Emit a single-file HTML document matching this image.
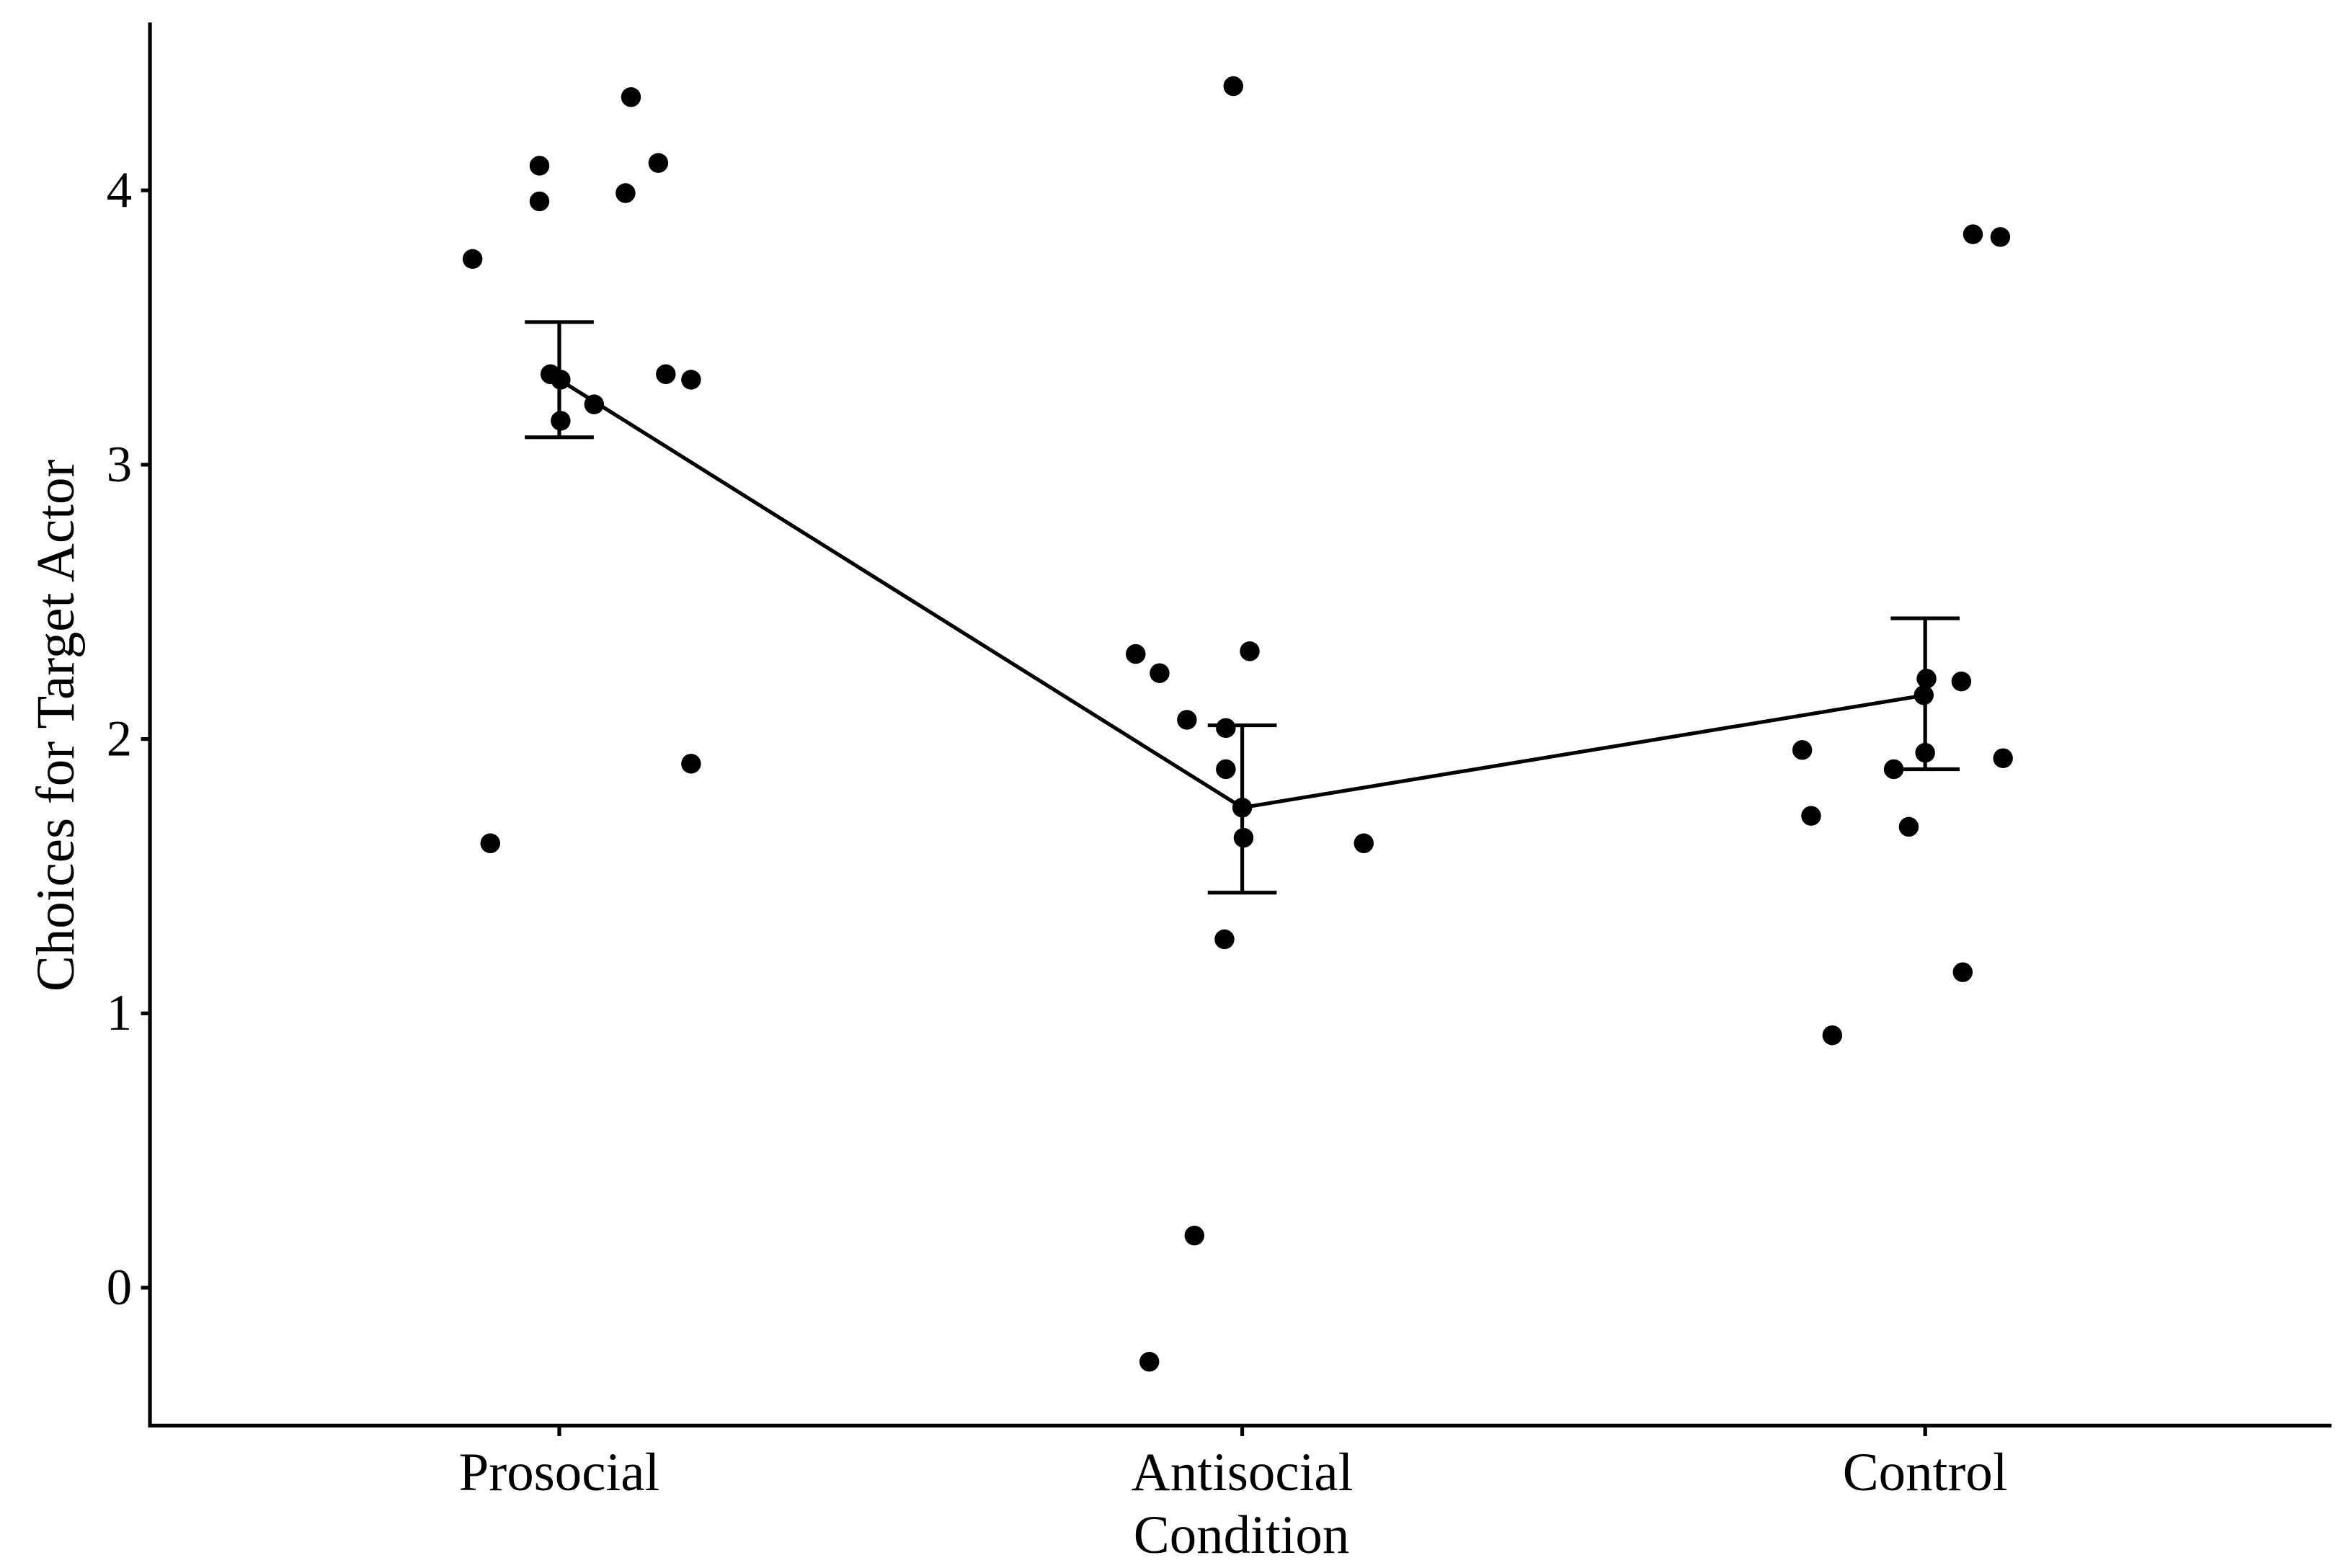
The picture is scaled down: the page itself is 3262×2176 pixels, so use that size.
<!DOCTYPE html>
<html><head><meta charset="utf-8"><style>
html,body{margin:0;padding:0;background:#fff}
svg{display:block}
text{font-family:"Liberation Serif",serif;fill:#000}
</style></head><body>
<svg id="chart" width="3262" height="2176" viewBox="0 0 1568 1046" xmlns="http://www.w3.org/2000/svg"></svg>
<script>
const categories = ["Prosocial","Antisocial","Control"];
const yTicks = [0,1,2,3,4];
const meanValues = [3.31, 1.75, 2.16];
const errLow = [3.10, 1.44, 1.89];
const errHigh = [3.52, 2.05, 2.44];
const pointCat = [0,0,0,0,0,0,0,0,0,0,0,0,0,0, 1,1,1,1,1,1,1,1,1,1,1,1,1, 2,2,2,2,2,2,2,2,2,2,2,2,2];
const pointJitter = [-0.127,-0.101,-0.029,-0.029,-0.013,0.002,0.002,0.051,0.097,0.105,0.145,0.156,0.193,0.193,
 -0.156,-0.121,-0.081,-0.024,-0.024,-0.013,0.011,0,0.002,-0.026,-0.070,-0.136,0.178,
 0.070,0.110,0.002,-0.002,0.053,-0.180,0,-0.046,0.114,-0.167,-0.024,0.055,-0.136];
const pointValues = [3.75,1.62,4.09,3.96,3.33,3.31,3.16,3.22,3.99,4.34,4.10,3.33,3.31,1.91,
 2.31,2.24,2.07,2.04,1.89,4.38,2.32,1.75,1.64,1.27,0.19,-0.27,1.62,
 3.84,3.83,2.22,2.16,2.21,1.96,1.95,1.89,1.93,1.72,1.68,1.15,0.92];

const svg = document.getElementById('chart');
const NS = "http://www.w3.org/2000/svg";
const X0 = 100, X1 = 1555, Y0 = 951, YT = 15;
const xScale = c => 373 + c * 455.5;
const yScale = v => 859 - v * 183;
function mk(tag, attrs, parent){const e=document.createElementNS(NS,tag);for(const k in attrs)e.setAttribute(k,attrs[k]);(parent||svg).appendChild(e);return e;}

const ax = mk('path',{d:`M${X0} ${YT} L${X0} ${Y0} L${X1} ${Y0}`,fill:'none',stroke:'#000','stroke-width':2.5});



yTicks.forEach(t=>{
  const y=yScale(t);
  const l=mk('line',{x1:X0-6,x2:X0,y1:y,y2:y,stroke:'#000','stroke-width':2.5});
  
  
  const tx=mk('text',{x:X0-12,y:y+11,'text-anchor':'end','font-size':34});
  tx.textContent=t;
  
  
});
categories.forEach((c,i)=>{
  const x=xScale(i);
  const l=mk('line',{x1:x,x2:x,y1:Y0,y2:Y0+7,stroke:'#000','stroke-width':2.5});
  
  
  const tx=mk('text',{x:x,y:994,'text-anchor':'middle','font-size':36});
  tx.textContent=c;
  
  
});
const xt=mk('text',{x:828,y:1036,'text-anchor':'middle','font-size':36});
xt.textContent='Condition';


const yt=mk('text',{x:0,y:0,'text-anchor':'middle','font-size':36,transform:'translate(49,484) rotate(-90)'});
yt.textContent='Choices for Target Actor';



pointValues.forEach((v,i)=>{
  const c=mk('circle',{cx:xScale(pointCat[i]+pointJitter[i]),cy:yScale(v),r:6.6,fill:'#000'});
  
  
});
const ml=mk('polyline',{points:meanValues.map((v,i)=>`${xScale(i)},${yScale(v)}`).join(' '),fill:'none',stroke:'#000','stroke-width':2.5});


meanValues.forEach((m,i)=>{
  const x=xScale(i), y1=yScale(errLow[i]), y2=yScale(errHigh[i]);
  const p=mk('path',{d:`M${x-23} ${y2} L${x+23} ${y2} M${x} ${y2} L${x} ${y1} M${x-23} ${y1} L${x+23} ${y1}`,fill:'none',stroke:'#000','stroke-width':2.5});
  
  
});
</script>
</body></html>
